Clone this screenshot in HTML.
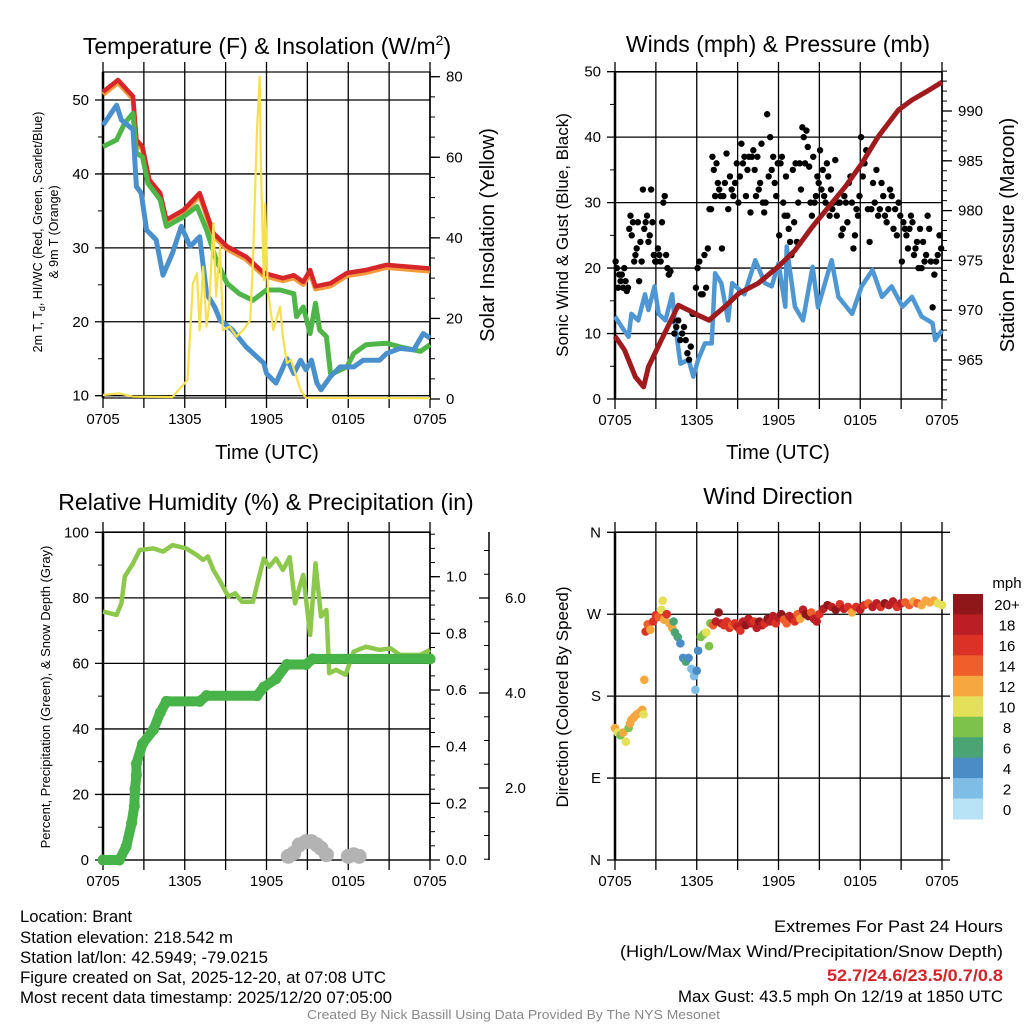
<!DOCTYPE html>
<html><head><meta charset="utf-8"><style>
html,body{margin:0;padding:0;background:#fff;}
svg{display:block;font-family:"Liberation Sans",Arial,sans-serif;}
</style></head><body>
<svg id="fig" width="1024" height="1024" viewBox="0 0 1024 1024" xmlns="http://www.w3.org/2000/svg">
<rect width="1024" height="1024" fill="#fff"/>
<g id="p1"></g>
<g id="p2"></g>
<g id="p3"></g>
<g id="p4"></g>
<g id="footer" font-size="16.5">
<text x="20" y="922" textLength="112" lengthAdjust="spacingAndGlyphs">Location: Brant</text>
<text x="20" y="943" textLength="213" lengthAdjust="spacingAndGlyphs">Station elevation: 218.542 m</text>
<text x="20" y="963" textLength="248" lengthAdjust="spacingAndGlyphs">Station lat/lon: 42.5949; -79.0215</text>
<text x="20" y="983" textLength="366" lengthAdjust="spacingAndGlyphs">Figure created on Sat, 2025-12-20, at 07:08 UTC</text>
<text x="20" y="1003" textLength="372" lengthAdjust="spacingAndGlyphs">Most recent data timestamp: 2025/12/20 07:05:00</text>
<text x="774" y="932" textLength="229" lengthAdjust="spacingAndGlyphs">Extremes For Past 24 Hours</text>
<text x="620" y="957" textLength="383" lengthAdjust="spacingAndGlyphs">(High/Low/Max Wind/Precipitation/Snow Depth)</text>
<text x="827" y="981" textLength="176" lengthAdjust="spacingAndGlyphs" fill="#d0262b" font-weight="bold">52.7/24.6/23.5/0.7/0.8</text>
<text x="678" y="1002" textLength="325" lengthAdjust="spacingAndGlyphs">Max Gust: 43.5 mph On 12/19 at 1850 UTC</text>
<text x="307" y="1019" font-size="13" fill="#888" textLength="413" lengthAdjust="spacingAndGlyphs">Created By Nick Bassill Using Data Provided By The NYS Mesonet</text>
</g>
</svg>
<script>
// ---------- DATA ----------
const xTickLabels = ["0705","1305","1905","0105","0705"];
// Temperature panel (hours since 0705)
const redT = [0,1.1,2.2,2.45,2.9,3.4,4.2,4.65,5.9,7.1,8.1,9.1,10.5,11.8,13.2,14,14.7,15.2,15.6,16.7,17.9,19.3,20.8,24];
const redV = [51.1,52.7,50.5,44.6,43.7,39.2,37.4,33.8,35.1,37.4,32,30.2,28.8,26.6,25.9,26.3,25.4,27,24.8,25.2,26.6,27,27.7,27.2];
const blueT = [0,1,1.35,2.2,2.45,2.8,3.2,3.9,4.4,5.1,5.75,6.4,7.1,7.6,8.2,8.6,9.5,10.5,11.8,12,12.7,13.5,14,14.5,14.9,15.3,15.7,16,16.7,17.4,18.4,19.1,20.3,20.8,21.8,22.8,23.5,24];
const blueV = [46.6,49.3,47.3,46,38.3,37.4,32.4,31.1,26.3,29.3,32.9,30.2,31.5,23.8,22,20.2,18.9,16.6,14.4,13,11.7,15,13,14.8,13.5,14.8,11.7,10.8,12.6,13.9,13.9,14.8,14.8,15.7,16.4,16.2,18.4,17.8];
const greenT = [0,1,1.6,2.2,2.45,2.9,3.3,4.2,4.65,5.9,6.9,7.6,8.3,9.1,10,11,12,13,14,14.2,14.7,15.2,15.6,15.9,16.4,16.7,17.1,17.9,18.4,19.3,20.8,21.8,23.3,24];
const greenV = [43.7,44.6,46.9,48.2,42.8,42.3,38.7,36.5,32.9,34.2,35.6,32.4,28.4,25.2,23.8,22.9,24.3,24.3,23.8,20.7,22,18.4,22.5,18.9,18,13,13.2,13.9,15.7,16.9,17.1,16.6,16,16.9];
const solarT = [0,1.2,2.2,5.1,5.75,6.2,6.6,6.9,7.1,7.35,7.6,7.8,8.1,8.3,8.6,8.8,9.3,9.8,10.3,10.8,11,11.3,11.5,11.6,11.8,11.9,12.1,12.5,13,13.2,13.5,13.8,14.5,14.9,24];
const solarV = [1,1.4,0.6,0.5,3,4.7,28.7,31.2,17,32.8,18,23.7,43.6,25.4,37.8,17.1,18,15.5,17.1,19.6,33.7,66.8,80,56.8,29.5,48.5,27,17.1,22.9,15.5,8.9,9.7,2.2,0.3,0.2];
// Winds panel
const windT = [0,0.5,1,1.2,1.7,2.2,2.45,2.9,3.2,3.7,4.2,4.4,4.8,5.4,5.75,6.1,6.6,7.1,7.35,7.8,8.3,8.6,9.5,10.3,11,11.5,12,12.5,12.6,13.2,13.8,14.5,14.9,15.9,16.4,17.4,18.1,18.9,19.6,20.3,21.1,21.8,22.5,23.3,23.5,24];
const windV = [12.6,11,9.5,13,12,16,13.6,17.2,13,12,16,11.6,5.4,6,3.4,6,8.5,8.5,19.2,17.7,12,17.7,16,21.2,17.7,17.2,20.7,14.1,23.3,14.1,12,20.2,14,21.2,15.6,13,17.2,19.7,15.6,17.2,14.1,15.6,12.6,11.6,9,10.5];
const presT = [0,0.7,1.5,2.1,2.45,3.4,4.65,5.4,6.1,6.9,8.1,9.1,10.5,12,13.2,14.5,15.7,16.9,18.1,19.3,20.8,21.8,22.8,24];
const presV = [967.4,966,963.3,962.3,964.3,967,970.5,970,969.5,969,970.4,971.7,972.7,974.4,976,978.4,980.4,982.4,984.7,987.4,990.1,991.1,991.9,992.9];
// gusts grouped by hour (hour h holds gusts observed during that hour)
const gustsByHour = [
 [21,20,17,19,18,19,17,20,18,16.5,17],[26,28,25,27,21,22,23,27,18,24,21],[32,26,27,28,24,25,32,27,22,21],
 [21,23,22,21,27,30,31,22,20,19],[19.5,12,10,11,12,9,10],[11,9,7,6,8,13,13,17],[20,21,16,16,22,17,23,29],
 [29,37,35,31,36,33,32,31,23,31],[33,37.5,29,34,32,31,33,36],[30,34,39,36,37,31,35,37,28.5],
 [37,38,35,31,37,32,33,39,30,28.5],[30,43.5,34,40,35,37,33,31,36],[25,36,37,30,28,34,28,26,24,22],
 [35,27,36,24,30,36,32,41.5,40,36],[41,38.5,35.5,30,28,37,30,31,34,33],[38,32,35,31,30,36,34,28,32,29],
 [30,36.5,28,30,30,25,26,31,30],[27,33,34,30,23,25,29,28,31],[40,34,36,38,29,24,29,33],
 [30,35,28,29,33,31,28,27],[29,32,31,26,29,25,30,28],[21,27,26,25,23,26,28,27,22],
 [23,24,20,26,20,24,21,22,28],[26,21,14,19,21,22,25,23]];
// Humidity panel
const rhT = [0,1,1.35,1.6,2.2,2.7,3.7,4.4,5.1,6.1,6.9,7.35,7.7,8.1,8.6,9.2,9.7,10.2,11,11.4,11.8,12.2,12.7,13.2,13.7,14.1,14.5,14.7,15.2,15.6,16,16.4,16.6,17.1,17.8,18.4,19.3,20.3,21.1,21.8,23.3,24];
const rhV = [75.8,74.8,78.3,86.5,90.5,94.6,95.1,94.1,96.1,95.1,93,91.6,92.6,88.5,85,80.4,81.4,78.8,78.8,85.5,92,89.5,92,88.5,92.4,78.3,84.4,87,68.7,90.5,74.3,76.3,57,58,56.5,63.6,65.1,64.1,64.6,62.6,62.6,64.1];
const precipT = [0,1.2,1.7,2.1,2.3,2.35,2.45,2.45,2.9,3.7,4.2,4.65,7.1,7.6,11.3,11.8,12.7,13.5,14.9,15.4,24];
const precipV = [0,0,0.047,0.13,0.19,0.25,0.3,0.34,0.41,0.46,0.52,0.56,0.56,0.58,0.58,0.61,0.64,0.69,0.69,0.71,0.71];
const snowT = [13.6,14,14.4,14.9,15.3,15.7,16,16.4,18,18.4,18.8];
const snowV = [0.5,1.5,4,5,5,4,3,1,0.5,1,0.5];
// Wind direction panel
const dirT = [0,0.2,0.4,0.6,0.8,1.0,1.1,1.2,1.4,1.6,1.8,2.0,2.1,2.15,2.25,2.4,2.6,2.8,3.0,3.2,3.4,3.5,3.6,3.8,4.0,4.2,4.3,4.4,4.6,4.8,5.0,5.2,5.4,5.6,5.8,5.9,6.0,6.1,6.3,6.5,6.7,6.9,7.0,7.2,7.4,7.6,7.8,8.0,8.2,8.4,8.6,8.8,9.0,9.2,9.4,9.6,9.8,10.0,10.2,10.4,10.6,10.8,11.0,11.2,11.4,11.6,11.8,12.0,12.2,12.4,12.6,12.8,13.0,13.2,13.4,13.6,13.8,14.0,14.2,14.4,14.6,14.8,15.0,15.3,15.6,15.9,16.2,16.5,16.8,17.1,17.4,17.7,18.0,18.3,18.6,18.9,19.2,19.5,19.8,20.1,20.4,20.7,21.0,21.3,21.6,21.9,22.2,22.5,22.8,23.1,23.4,23.7,24];
const dirDeg = [145,140,137,140,130,145,150,154,157,160,162,165,160,198,251,259,253,262,269,267,275,285,264,270,260,255,262,250,245,238,222,218,222,210,202,187,208,230,245,248,250,235,260,258,262,272,260,258,262,255,258,260,256,252,262,258,265,260,262,255,262,258,260,265,262,268,260,266,270,264,260,268,265,262,270,265,275,270,268,272,265,262,270,276,280,278,275,281,276,278,272,278,275,280,282,278,282,278,282,280,284,278,282,283,280,284,282,280,285,283,285,282,280];
const dirSpd = [12,10,8,12,10,8,12,12,13,12,12,13,10,12,16,14,13,16,16,14,10,10,12,16,13,12,6,6,6,4,4,6,4,2,2,3,4,4,8,8,10,8,8,14,18,20,18,16,16,17,14,16,18,16,18,20,18,18,16,18,20,18,16,20,18,18,16,18,20,14,14,18,18,16,14,12,18,20,20,14,18,18,16,18,20,18,20,16,18,16,12,16,18,16,14,18,18,16,20,18,18,16,18,14,14,12,14,12,12,12,12,10,10];
const cbLabels = ["20+","18","16","14","12","10","8","6","4","2","0"];
const cbColors = ["#8f1619","#bb1e25","#dc3226","#ee5f2c","#f6a740","#e5e05a","#7dc24a","#4aa474","#4a8cc6","#80bde6","#b8e3f7"];

// ---------- HELPERS ----------
const NS="http://www.w3.org/2000/svg";
function mk(parent, tag, attrs){const e=document.createElementNS(NS,tag);for(const k in attrs)e.setAttribute(k,attrs[k]);parent.appendChild(e);return e;}
function txt(parent,x,y,s,size,anchor,extra){const t=mk(parent,'text',Object.assign({x:x,y:y,'font-size':size,'text-anchor':anchor||'middle'},extra||{}));t.textContent=s;return t;}
function lin(d0,d1,r0,r1){return v=>r0+(v-d0)*(r1-r0)/(d1-d0);}
function poly(xs,ys,fx,fy){return xs.map((t,i)=>fx(t).toFixed(1)+','+fy(ys[i]).toFixed(1)).join(' ');}

function frame(g,L,R,T,B,yTicks,fy,yLabels,minor,grid){
  const fx=lin(0,24,L,R);
  for(let i=0;i<=8;i++){const x=fx(i*3);
    const gl=mk(g,'line',{x1:x,x2:x,y1:T-10,y2:B+10,stroke:'#000','stroke-width':1.3});
    
    
  }
  yTicks.forEach((v,i)=>{const y=fy(v);
    const hl=mk(g,'line',{x1:L-8,x2:R+(grid==='ext'?8:0),y1:y,y2:y,stroke:'#000','stroke-width':1.3});
    
    
    const t=txt(g,L-14,y+5,yLabels[i],15,'end');
    
    
  });
  (minor||[]).forEach(v=>{const y=fy(v);mk(g,'line',{x1:L-5,x2:L,y1:y,y2:y,stroke:'#000','stroke-width':1});});
  mk(g,'rect',{x:L,y:T,width:R-L,height:B-T,fill:'none',stroke:'#000','stroke-width':1.2});
  mk(g,'line',{x1:L,x2:L,y1:T,y2:B,stroke:'#000','stroke-width':2.5});
  xTickLabels.forEach((s,i)=>{const t=txt(g,fx(i*6),B+26,s,15,'middle');
    
    });
  return fx;
}
function rightAxis(g,R,T,B,fy,vals,labels,minorVals,offset){
  offset=offset||0;
  mk(g,'line',{x1:R+offset,x2:R+offset,y1:T,y2:B,stroke:'#000','stroke-width':1.5});
  vals.forEach((v,i)=>{const y=fy(v);
    mk(g,'line',{x1:R+offset,x2:R+offset+10,y1:y,y2:y,stroke:'#000','stroke-width':1.3});
    const t=txt(g,R+offset+16,y+5,labels[i],15,'start');
    
    });
  minorVals.forEach(v=>{const y=fy(v);if(y>=T-1&&y<=B+1)mk(g,'line',{x1:R+offset,x2:R+offset+5,y1:y,y2:y,stroke:'#000','stroke-width':1});});
}

// ---------- PANEL 1 ----------
(function(){
 const g=document.getElementById('p1');const L=103,R=430,T=72,B=398;
 const fy=lin(10,50,395.7,100);
 const fx=frame(g,L,R,T,B,[10,20,30,40,50],fy,["10","20","30","40","50"],[15,25,35,45]);
 const fy2=lin(0,80,399,76.7);
 const mv=[];for(let v=5;v<82;v+=5)mv.push(v);
 rightAxis(g,R,T,B,fy2,[0,20,40,60,80],["0","20","40","60","80"],mv);
 const ro=mk(g,'polyline',{points:poly(redT,redV.map(v=>v-0.35),fx,fy),fill:'none',stroke:'#f39a3c','stroke-width':5,'stroke-linejoin':'round'});
 
 const r=mk(g,'polyline',{points:poly(redT,redV,fx,fy),fill:'none',stroke:'#d7262a','stroke-width':4.5,'stroke-linejoin':'round'});
 
 const gr=mk(g,'polyline',{points:poly(greenT,greenV,fx,fy),fill:'none',stroke:'#4fb548','stroke-width':5,'stroke-linejoin':'round'});
 
 const b=mk(g,'polyline',{points:poly(blueT,blueV,fx,fy),fill:'none',stroke:'#4a90cc','stroke-width':5,'stroke-linejoin':'round'});
 
 const y=mk(g,'polyline',{points:poly(solarT,solarV,fx,fy2),fill:'none',stroke:'#f7e04f','stroke-width':2.2,'stroke-linejoin':'round'});
 
 const t=mk(g,'text',{x:267,y:54,'font-size':23,'text-anchor':'middle'});
 t.innerHTML='Temperature (F) &amp; Insolation (W/m<tspan dy="-9" font-size="14">2</tspan><tspan dy="9">)</tspan>';
 
 const xl=txt(g,267,459,'Time (UTC)',20);
 const yl=mk(g,'text',{'font-size':12.5,'text-anchor':'middle',transform:'translate(42,232) rotate(-90)'});
 yl.innerHTML='2m T, T<tspan dy="3" font-size="9">d</tspan><tspan dy="-3">, HI/WC (Red, Green, Scarlet/Blue)</tspan>';
 
 const yl2=txt(g,0,0,'& 9m T (Orange)',12.5,'middle',{transform:'translate(58,232) rotate(-90)'});
 
 const rl=txt(g,0,0,'Solar Insolation (Yellow)',20,'middle',{transform:'translate(494,235) rotate(-90)'});
 
})();

// ---------- PANEL 2 ----------
(function(){
 const g=document.getElementById('p2');const L=615,R=942,T=72,B=399;
 const fy=lin(0,50,399,71.7);
 const fx=frame(g,L,R,T,B,[0,10,20,30,40,50],fy,["0","10","20","30","40","50"],[5,15,25,35,45]);
 const fy2=lin(965,990,360,111);
 const mv=[];for(let v=961;v<=994;v++)mv.push(v);
 rightAxis(g,R,T,B,fy2,[965,970,975,980,985,990],["965","970","975","980","985","990"],mv);
 const w=mk(g,'polyline',{points:poly(windT,windV,fx,fy),fill:'none',stroke:'#4f97d3','stroke-width':4.5,'stroke-linejoin':'round'});
 
 gustsByHour.forEach((arr,h)=>arr.forEach((v,i)=>{
   const c=mk(g,'circle',{cx:fx(h+(i+0.5)/arr.length),cy:fy(v),r:3.2,fill:'#000'});
   
   
 }));
 const p=mk(g,'polyline',{points:poly(presT,presV,fx,fy2),fill:'none',stroke:'#a01b1e','stroke-width':5,'stroke-linejoin':'round'});
 
 const t=txt(g,778,52,'Winds (mph) & Pressure (mb)',23);
 const xl=txt(g,778,459,'Time (UTC)',20);
 const yl=txt(g,0,0,'Sonic Wind & Gust (Blue, Black)',17,'middle',{transform:'translate(568,235) rotate(-90)'});
 
 const rl=txt(g,0,0,'Station Pressure (Maroon)',20,'middle',{transform:'translate(1014,235) rotate(-90)'});
 
})();

// ---------- PANEL 3 ----------
(function(){
 const g=document.getElementById('p3');const L=103,R=430,T=532,B=860;
 const fy=lin(0,100,860,532.3);
 const fx=frame(g,L,R,T,B,[0,20,40,60,80,100],fy,["0","20","40","60","80","100"],[10,30,50,70,90]);
 const fyP=lin(0,1,860,576.7);
 const mv=[];for(let v=0.05;v<1.16;v+=0.05)mv.push(v);
 rightAxis(g,R,T,B,fyP,[0,0.2,0.4,0.6,0.8,1.0],["0.0","0.2","0.4","0.6","0.8","1.0"],mv);
 const fyS=lin(2,6,788,598);
 const mv2=[];for(let v=0.5;v<7.2;v+=0.5)mv2.push(v);
 mk(g,'line',{x1:489,x2:489,y1:T,y2:B,stroke:'#000','stroke-width':1.5});
 [2,4,6].forEach((v,i)=>{const y=fyS(v);mk(g,'line',{x1:489,x2:479,y1:y,y2:y,stroke:'#000','stroke-width':1.3});
   const tl=txt(g,505,y+5,["2.0","4.0","6.0"][i],15,'start');
   });
 mv2.forEach(v=>{const y=fyS(v);if(y>=T&&y<=B)mk(g,'line',{x1:489,x2:484,y1:y,y2:y,stroke:'#000','stroke-width':1});});
 const rh=mk(g,'polyline',{points:poly(rhT,rhV,fx,fy),fill:'none',stroke:'#8cc84b','stroke-width':4.5,'stroke-linejoin':'round'});
 
 const pl=mk(g,'polyline',{points:poly(precipT,precipV,fx,fyP),fill:'none',stroke:'#48b348','stroke-width':10,'stroke-linejoin':'round','stroke-linecap':'round'});
 
 precipT.forEach((t,i)=>{const c=mk(g,'circle',{cx:fx(t),cy:fyP(precipV[i]),r:5.5,fill:'#48b348'});
   
   });
 snowT.forEach((t,i)=>{const c=mk(g,'circle',{cx:fx(t),cy:fy(snowV[i])-2,r:7.5,fill:'#b3b3b3'});
   
   });
 const t=txt(g,266,510,'Relative Humidity (%) & Precipitation (in)',23);
 const yl=txt(g,0,0,'Percent, Precipitation (Green), & Snow Depth (Gray)',13,'middle',{transform:'translate(50,697) rotate(-90)'});
 
})();

// ---------- PANEL 4 ----------
(function(){
 const g=document.getElementById('p4');const L=615,R=942,T=532,B=860;
 const fy=lin(0,360,860,532.3);
 const fx=frame(g,L,R,T,B,[0,90,180,270,360],fy,["N","E","S","W","N"],[],'ext');
 function col(s){let k=Math.min(10,Math.floor(s/2));return cbColors[10-k];}
 dirT.forEach((t,i)=>{const c=mk(g,'circle',{cx:fx(t),cy:fy(dirDeg[i]),r:4.3,fill:col(dirSpd[i])});
   
   });
 const cb=mk(g,'g',{});
 const h=(819-594)/11;
 cbColors.forEach((c,i)=>{mk(cb,'rect',{x:953,y:594+i*h,width:30,height:h+0.5,fill:c});
   const tl=txt(cb,1007,594+i*h+h/2+6,cbLabels[i],15,'middle');
   });
 const u=txt(cb,1007,588,'mph',15,'middle');
 const t=txt(g,778,504,'Wind Direction',23);
 const yl=txt(g,0,0,'Direction (Colored By Speed)',17,'middle',{transform:'translate(568,697) rotate(-90)'});
 
})();
</script>
</body></html>
